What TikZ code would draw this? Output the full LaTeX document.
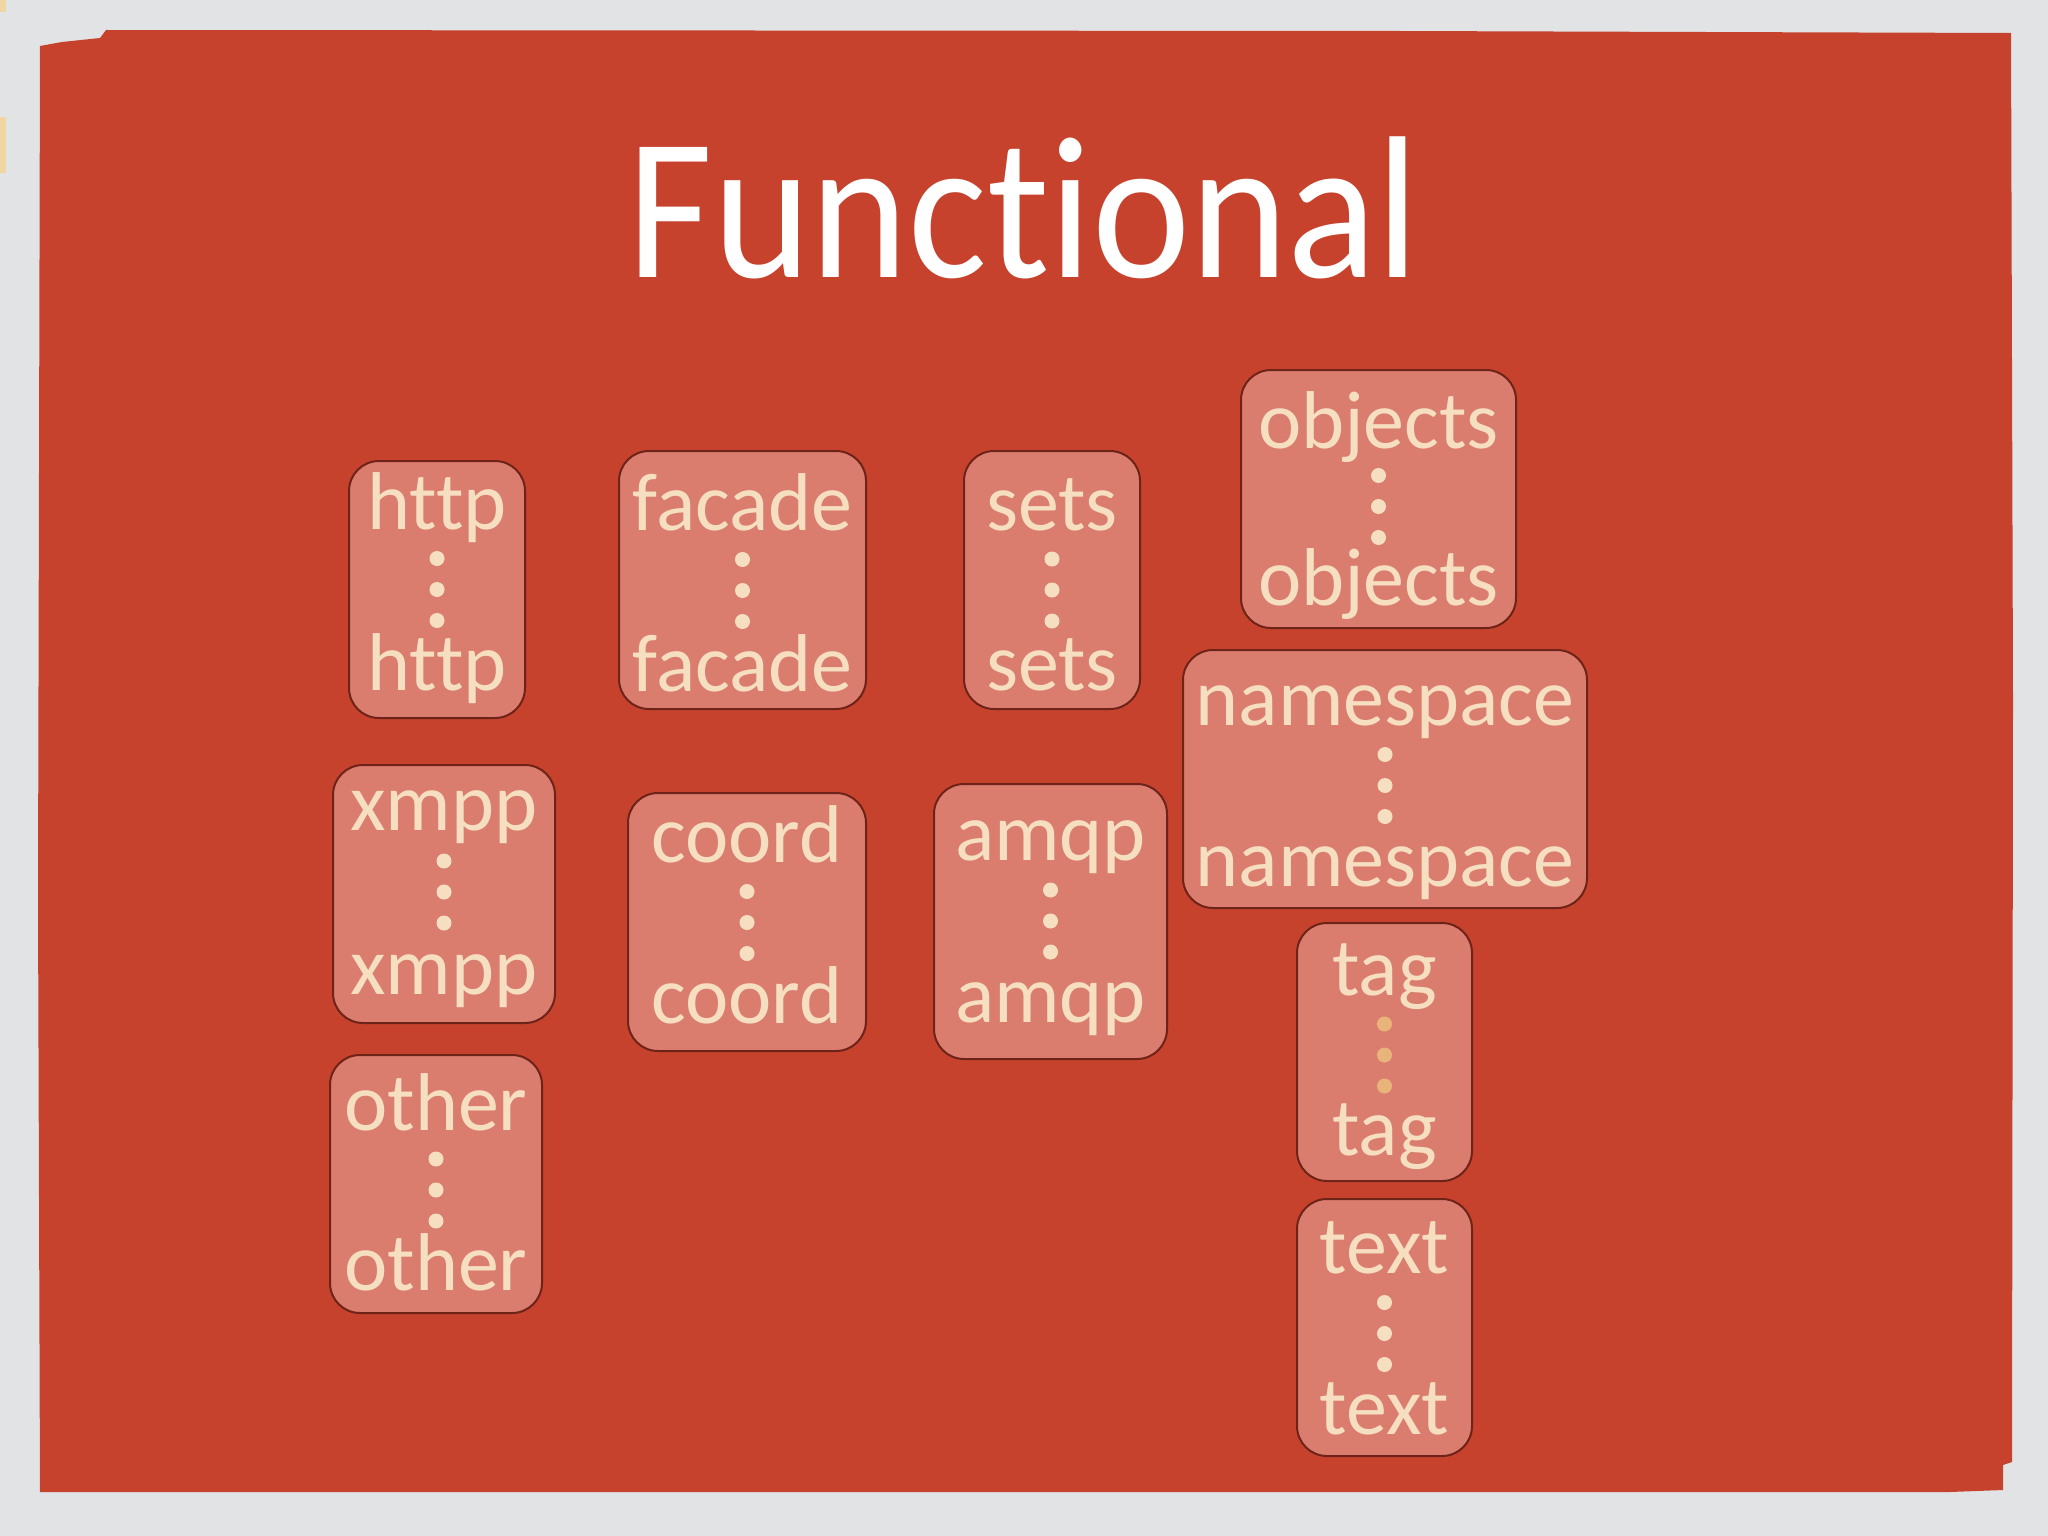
\documentclass[tikz,border=0pt]{standalone}
\usepackage{fontspec}
\setmainfont{Carlito}[Ligatures=NoCommon]
\definecolor{paper}{RGB}{226,227,229}
\definecolor{slide}{RGB}{199,66,45}
\definecolor{boxfill}{RGB}{218,125,110}
\definecolor{boxline}{RGB}{110,35,25}
\definecolor{cream}{RGB}{246,222,192}
\definecolor{tagdot}{RGB}{232,180,122}
\definecolor{smear}{RGB}{240,214,160}
\tikzset{
  cardbox/.style={draw=boxline, line width=2pt, fill=boxfill, rounded corners=30pt, inner sep=0pt},
  cardlabel/.style={text=cream, font=\fontsize{82}{92}\selectfont, anchor=base, inner sep=0pt},
  creamdot/.style={fill=cream},
  orangedot/.style={fill=tagdot},
  titletext/.style={text=white, font=\fontsize{186}{200}\selectfont, anchor=base, inner sep=0pt},
}
\newcommand\card[9]{%
  \pgfmathsetmacro\cardcx{(#2+#4)/2}%
  \pgfmathsetmacro\cardcy{(#3+#5)/2}%
  \pgfmathsetmacro\cardw{#4-#2}%
  \pgfmathsetmacro\cardh{#5-#3}%
  \pgfmathsetmacro\carddm{(#6+#7-40)/2}%
  \node[cardbox, minimum width=\cardw pt, minimum height=\cardh pt] (#1) at (\cardcx,\cardcy) {};
  \node[cardlabel] (#1-a) at (\cardcx,#6) {#8};
  \node[cardlabel] (#1-b) at (\cardcx,#7) {#8};
  \foreach \k in {-1,0,1} {\fill[#9] (\cardcx,{\carddm+31*\k}) circle (7.5pt);}
}
\begin{document}
\begin{tikzpicture}[x=1pt,y=-1pt]
\useasboundingbox (0,0) rectangle (2048,1536);
\fill[paper] (0,0) rectangle (2048,1536);
\fill[smear] (0,0) rectangle (6,12);
\fill[smear] (0,117) rectangle (6,173);
\fill[slide] (40,46) -- (62,42) -- (100,38) -- (106,30) -- (1400,31) -- (2011,33)
  -- (2013,700) -- (2012,1462) -- (2003,1465) -- (2003,1490) -- (1950,1492)
  -- (40,1492) -- (38,900) -- cycle;
\node[titletext] (title) at (1024,277) {\scalebox{1}[1.09]{Functional}};
\card{http}{349}{461}{525}{718}{529}{690}{http}{creamdot}
\card{facade}{619}{451}{866}{709}{530}{691}{facade}{creamdot}
\card{sets}{964}{451}{1140}{709}{530}{690}{sets}{creamdot}
\card{objects}{1241}{370}{1516}{628}{448}{605}{objects}{creamdot}
\card{namespace}{1183}{650}{1587}{908}{725}{886}{namespace}{creamdot}
\card{xmpp}{333}{765}{555}{1023}{830}{994}{xmpp}{creamdot}
\card{coord}{628}{793}{866}{1051}{862}{1023}{coord}{creamdot}
\card{amqp}{934}{784}{1167}{1059}{860}{1022}{amqp}{creamdot}
\card{tag}{1297}{923}{1472}{1181}{995}{1155}{tag}{orangedot}
\card{text}{1297}{1199}{1472}{1456}{1273}{1434}{text}{creamdot}
\card{other}{330}{1055}{542}{1313}{1130}{1290}{other}{creamdot}
\end{tikzpicture}
\end{document}
